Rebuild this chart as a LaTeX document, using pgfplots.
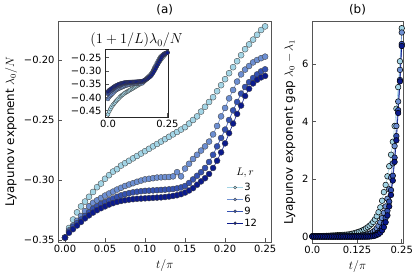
\documentclass[border=0pt]{standalone}
\usepackage{fontspec}
\setmainfont{DejaVu Sans}
\usepackage{pgfplots}
\usepackage{pgfplotstable}
\pgfplotsset{compat=1.18}
\definecolor{cA}{HTML}{A3D5E6}
\definecolor{cB}{HTML}{6D8FD2}
\definecolor{cC}{HTML}{3451B2}
\definecolor{cD}{HTML}{0B1A8C}
\definecolor{spine}{HTML}{555555}

% t, a = lambda0/N, b = gap
\pgfplotstableread{
t a b
0.000 -0.348 0.02
0.005 -0.340 0.02
0.010 -0.333 0.02
0.015 -0.327 0.02
0.020 -0.322 0.02
0.025 -0.318 0.02
0.030 -0.314 0.025
0.035 -0.310 0.025
0.040 -0.306 0.03
0.045 -0.303 0.03
0.050 -0.299 0.035
0.055 -0.296 0.04
0.060 -0.293 0.04
0.065 -0.291 0.045
0.070 -0.288 0.05
0.075 -0.286 0.05
0.080 -0.284 0.055
0.085 -0.282 0.06
0.090 -0.280 0.065
0.095 -0.278 0.07
0.100 -0.276 0.075
0.105 -0.274 0.08
0.110 -0.272 0.10
0.115 -0.270 0.11
0.120 -0.268 0.13
0.125 -0.266 0.15
0.130 -0.264 0.17
0.135 -0.262 0.19
0.140 -0.260 0.22
0.145 -0.258 0.25
0.150 -0.256 0.29
0.155 -0.253 0.33
0.160 -0.250 0.38
0.165 -0.247 0.44
0.170 -0.243 0.51
0.175 -0.239 0.60
0.180 -0.235 0.71
0.185 -0.231 0.85
0.190 -0.226 1.02
0.195 -0.221 1.25
0.200 -0.216 1.55
0.205 -0.211 1.80
0.210 -0.206 2.10
0.215 -0.201 2.45
0.220 -0.196 2.85
0.225 -0.191 3.30
0.230 -0.187 3.85
0.235 -0.183 4.45
0.240 -0.179 5.20
0.245 -0.175 6.10
0.250 -0.172 7.25
}\tabA
\pgfplotstableread{
t a b
0.000 -0.348 0.01
0.005 -0.342 0.01
0.010 -0.338 0.01
0.015 -0.334 0.01
0.020 -0.330 0.01
0.025 -0.326 0.01
0.030 -0.322 0.01
0.035 -0.319 0.01
0.040 -0.317 0.01
0.045 -0.315 0.01
0.050 -0.313 0.01
0.055 -0.3113 0.01
0.060 -0.3097 0.01
0.065 -0.3080 0.01
0.070 -0.3065 0.01
0.075 -0.3050 0.01
0.080 -0.3038 0.01
0.085 -0.3027 0.01
0.090 -0.3015 0.01
0.095 -0.3005 0.012
0.100 -0.2995 0.012
0.105 -0.2990 0.013
0.110 -0.2985 0.014
0.115 -0.2980 0.015
0.120 -0.2978 0.017
0.125 -0.2976 0.02
0.130 -0.2975 0.025
0.135 -0.2970 0.03
0.140 -0.2935 0.04
0.145 -0.2970 0.05
0.150 -0.2905 0.06
0.155 -0.2865 0.08
0.160 -0.2825 0.10
0.165 -0.2790 0.13
0.170 -0.2755 0.17
0.175 -0.2720 0.22
0.180 -0.2680 0.29
0.185 -0.2620 0.38
0.190 -0.2550 0.50
0.195 -0.2470 0.65
0.200 -0.2400 0.83
0.205 -0.2320 1.05
0.210 -0.2250 1.32
0.215 -0.2180 1.65
0.220 -0.2120 2.05
0.225 -0.2080 2.55
0.230 -0.2050 3.15
0.235 -0.2020 3.85
0.240 -0.2000 4.70
0.245 -0.1985 5.80
0.250 -0.1972 7.10
}\tabB
\pgfplotstableread{
t a b
0.000 -0.348 0.005
0.005 -0.343 0.005
0.010 -0.339 0.005
0.015 -0.336 0.005
0.020 -0.333 0.005
0.025 -0.330 0.005
0.030 -0.327 0.005
0.035 -0.324 0.005
0.040 -0.322 0.005
0.045 -0.320 0.005
0.050 -0.3185 0.005
0.055 -0.317 0.005
0.060 -0.3155 0.005
0.065 -0.314 0.005
0.070 -0.3128 0.005
0.075 -0.3118 0.005
0.080 -0.311 0.005
0.085 -0.3103 0.005
0.090 -0.3098 0.005
0.095 -0.3094 0.005
0.100 -0.3091 0.005
0.105 -0.3089 0.005
0.110 -0.3087 0.005
0.115 -0.3085 0.005
0.120 -0.3083 0.005
0.125 -0.3081 0.005
0.130 -0.3078 0.005
0.135 -0.3075 0.005
0.140 -0.3070 0.006
0.145 -0.3062 0.007
0.150 -0.3050 0.008
0.155 -0.3025 0.01
0.160 -0.2995 0.02
0.165 -0.2965 0.03
0.170 -0.2935 0.05
0.175 -0.2900 0.07
0.180 -0.2850 0.10
0.185 -0.2790 0.15
0.190 -0.2720 0.22
0.195 -0.2650 0.32
0.200 -0.2580 0.46
0.205 -0.2500 0.65
0.210 -0.2420 0.90
0.215 -0.2350 1.22
0.220 -0.2280 1.62
0.225 -0.2225 2.12
0.230 -0.2185 2.75
0.235 -0.2150 3.50
0.240 -0.2120 4.40
0.245 -0.2095 5.45
0.250 -0.2078 6.70
}\tabC
\pgfplotstableread{
t a b
0.000 -0.348 0.003
0.005 -0.344 0.003
0.010 -0.341 0.003
0.015 -0.338 0.003
0.020 -0.335 0.003
0.025 -0.332 0.003
0.030 -0.3295 0.003
0.035 -0.3272 0.003
0.040 -0.3252 0.003
0.045 -0.3235 0.003
0.050 -0.3220 0.003
0.055 -0.3205 0.003
0.060 -0.3193 0.003
0.065 -0.3183 0.003
0.070 -0.3175 0.003
0.075 -0.3169 0.003
0.080 -0.3164 0.003
0.085 -0.3160 0.003
0.090 -0.3157 0.003
0.095 -0.3155 0.003
0.100 -0.3153 0.003
0.105 -0.3151 0.003
0.110 -0.3149 0.003
0.115 -0.3147 0.003
0.120 -0.3145 0.003
0.125 -0.3142 0.003
0.130 -0.3138 0.003
0.135 -0.3133 0.003
0.140 -0.3127 0.003
0.145 -0.3118 0.003
0.150 -0.3105 0.003
0.155 -0.3088 0.003
0.160 -0.3068 0.004
0.165 -0.3040 0.01
0.170 -0.3012 0.02
0.175 -0.2985 0.035
0.180 -0.2950 0.06
0.185 -0.2900 0.09
0.190 -0.2840 0.14
0.195 -0.2770 0.22
0.200 -0.2695 0.33
0.205 -0.2610 0.50
0.210 -0.2530 0.74
0.215 -0.2450 1.05
0.220 -0.2380 1.45
0.225 -0.2300 1.95
0.230 -0.2240 2.60
0.235 -0.2195 3.35
0.240 -0.2165 4.30
0.245 -0.2145 5.40
0.250 -0.2133 6.63
}\tabD

\pgfplotsset{
  base/.style={
    scale only axis, axis line style={spine, line width=0.6pt},
    tick style={spine, line width=0.6pt}, tick align=inside, tick pos=left,
    major tick length=3.5bp,
    tick label style={font=\fontsize{10}{12}\selectfont},
    label style={font=\fontsize{12}{14}\selectfont},
    title style={font=\fontsize{12}{14}\selectfont, yshift=-4bp},
  },
  sA/.style={color=cA, line width=0.6pt, mark=*, mark size=3bp, mark options={fill=cA, draw=black!75, line width=0.35pt}},
  sB/.style={color=cB, line width=0.6pt, mark=*, mark size=3bp, mark options={fill=cB, draw=black!75, line width=0.35pt}},
  sC/.style={color=cC, line width=0.6pt, mark=*, mark size=3bp, mark options={fill=cC, draw=black!75, line width=0.35pt}},
  sD/.style={color=cD, line width=0.6pt, mark=*, mark size=3bp, mark options={fill=cD, draw=black!75, line width=0.35pt}},
  bedge/.style={mark size=2.8bp, mark options={draw=black, line width=0.5pt}},
}

\begin{document}
\begin{tikzpicture}
\path[use as bounding box] (0,0) rectangle (415bp,277bp);

% ---------- panel (a)
\begin{axis}[base,
  at={(58bp,35bp)}, anchor=south west, width=213.5bp, height=221bp,
  xmin=-0.00875, xmax=0.258, ymin=-0.3517, ymax=-0.1675,
  xtick={0,0.05,0.1,0.15,0.2,0.25},
  xticklabels={0.00,0.05,0.10,0.15,0.20,0.25},
  ytick={-0.35,-0.30,-0.25,-0.20},
  yticklabels={−0.35,−0.30,−0.25,−0.20},
  xlabel={$t/\pi$}, ylabel={Lyapunov exponent $\lambda_0/N$},
  title={(a)},
  legend style={draw=none, fill=none, at={(0.79,0.272)}, anchor=north west,
    font=\fontsize{10}{11}\selectfont, row sep=1bp,
    inner sep=0pt, nodes={inner sep=1pt}},
  legend cell align=left,
  every legend image post/.style={mark size=1.5bp},
  legend image code/.code={\draw[mark repeat=2,mark phase=2] plot coordinates {(0cm,0cm) (0.28cm,0cm) (0.56cm,0cm)};},
]
\addplot[sA] table[x=t,y=a] {\tabA}; \addlegendentry{3}
\addplot[sB] table[x=t,y=a] {\tabB}; \addlegendentry{6}
\addplot[sC] table[x=t,y=a] {\tabC}; \addlegendentry{9}
\addplot[sD] table[x=t,y=a] {\tabD}; \addlegendentry{12}
\node[font=\fontsize{11}{12}\selectfont] at (rel axis cs:0.876,0.312) {$L, r$};
\end{axis}

% ---------- inset
\begin{axis}[base,
  at={(105bp,160bp)}, anchor=south west, width=63bp, height=68bp,
  axis background/.style={fill=white},
  axis line style={black!85, line width=0.6pt},
  xmin=-0.0125, xmax=0.2525, ymin=-0.474, ymax=-0.217,
  xtick={0,0.25}, xticklabels={0.0,0.25},
  ytick={-0.45,-0.40,-0.35,-0.30,-0.25},
  yticklabels={−0.45,−0.40,−0.35,−0.30,−0.25},
  title={$(1+1/L)\lambda_0/N$},
  title style={font=\fontsize{14}{16}\selectfont, yshift=-4bp},
  clip=true,
]
\addplot[sA, mark size=2bp] table[x=t,y expr=\thisrow{a}*4/3] {\tabA};
\addplot[sB, mark size=2bp] table[x=t,y expr=\thisrow{a}*7/6] {\tabB};
\addplot[sC, mark size=2bp] table[x=t,y expr=\thisrow{a}*10/9] {\tabC};
\addplot[sD, mark size=2bp] table[x=t,y expr=\thisrow{a}*13/12] {\tabD};
\end{axis}

% ---------- panel (b)
\begin{axis}[base,
  at={(312bp,34bp)}, anchor=south west, width=91bp, height=222bp,
  xmin=-0.001, xmax=0.2535, ymin=-0.22, ymax=7.5,
  xtick={0,0.125,0.25}, xticklabels={0.0,0.125,0.25},
  ytick={0,2,4,6}, yticklabels={0,2,4,6},
  xlabel={$t/\pi$}, ylabel={Lyapunov exponent gap $\lambda_0-\lambda_1$},
  title={(b)},
  clip=false,
]
\addplot[sA, bedge] table[x=t,y=b] {\tabA};
\addplot[sB, bedge] table[x=t,y=b] {\tabB};
\addplot[sC, bedge] table[x=t,y=b] {\tabC};
\addplot[sD, bedge] table[x=t,y=b] {\tabD};
\end{axis}
\end{tikzpicture}
\end{document}
